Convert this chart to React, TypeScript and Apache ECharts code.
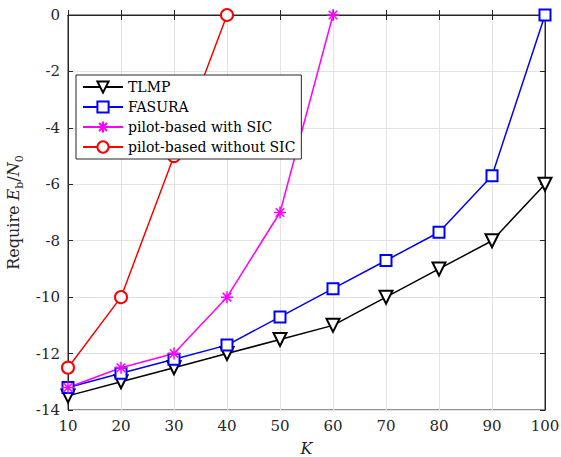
import React, { useEffect, useRef } from "react";
import * as echarts from "echarts";

const kValues = [10, 20, 30, 40, 50, 60, 70, 80, 90, 100];
const tlmp = [-13.5, -13, -12.5, -12, -11.5, -11, -10, -9, -8, -6];
const fasura = [-13.2, -12.7, -12.2, -11.7, -10.7, -9.7, -8.7, -7.7, -5.7, 0];
const pilotSic = [-13.2, -12.5, -12, -10, -7, 0];
const pilotNoSic = [-12.5, -10, -5, 0];

const FONT = "'DejaVu Serif', 'Liberation Serif', serif";
const AX = "#262626";
const ASTERISK = "path://M5,0L5,10M0,5L10,5M1.46,1.46L8.54,8.54M1.46,8.54L8.54,1.46";

function pairs(vals: number[]) {
  return vals.map((v, i) => [kValues[i], v]);
}

export default function App() {
  const ref = useRef<HTMLDivElement>(null);
  useEffect(() => {
    if (!ref.current) return;
    const chart = echarts.init(ref.current, undefined, { renderer: "svg" });
    const baseAxis = {
      axisLine: { show: true, lineStyle: { color: AX, width: 1 } },
      axisTick: { show: true, inside: true, length: 5, lineStyle: { color: AX } },
      axisLabel: { color: AX, fontFamily: FONT, fontSize: 15 },
      splitLine: { show: false },
    };
    const mk = (name: string, color: string, data: number[], symbol: string, size: number, rotate = 0) => ({
      name,
      type: "line",
      data: pairs(data),
      symbol,
      symbolSize: size,
      symbolRotate: rotate,
      showAllSymbol: true,
      lineStyle: { color, width: 1.5 },
      itemStyle: { color, borderColor: color, borderWidth: 1.5 },
    });
    chart.setOption({
      animation: false,
      backgroundColor: "#ffffff",
      grid: {
        left: 68,
        right: 16,
        top: 15,
        bottom: 47,
        show: true,
        borderColor: AX,
        borderWidth: 1,
        outerBoundsMode: "none",
        containLabel: false,
      },
      legend: {
        left: 76,
        top: 75,
        orient: "vertical",
        backgroundColor: "#ffffff",
        borderColor: "#262626",
        borderWidth: 1,
        borderRadius: 0,
        padding: [5, 6],
        itemGap: 6,
        itemWidth: 40,
        itemHeight: 14,
        textStyle: { fontFamily: FONT, fontSize: 14, color: "#000" },
        data: ["TLMP", "FASURA", "pilot-based with SIC", "pilot-based without SIC"],
      },
      xAxis: [
        {
          ...baseAxis,
          type: "value",
          min: 10,
          max: 100,
          interval: 10,
          name: "K",
          nameLocation: "middle",
          nameGap: 30,
          nameTextStyle: { fontFamily: FONT, fontSize: 16, fontStyle: "italic", color: AX },
          splitLine: { show: true, lineStyle: { color: "#e3e3e3", width: 1 } },
        },
        {
          ...baseAxis,
          type: "value",
          position: "top",
          min: 10,
          max: 100,
          interval: 10,
          axisLabel: { show: false },
        },
      ],
      yAxis: [
        {
          ...baseAxis,
          type: "value",
          min: -14,
          max: 0,
          interval: 2,
          name: "{r|Require }{i|E}{s|b}{r|/}{i|N}{s|0}",
          nameLocation: "middle",
          nameGap: 42,
          nameTextStyle: {
            color: AX,
            rich: {
              r: { fontFamily: FONT, fontSize: 16, color: AX, lineHeight: 22 },
              i: { fontFamily: FONT, fontSize: 16, fontStyle: "italic", color: AX, lineHeight: 22 },
              s: { fontFamily: FONT, fontSize: 11, color: AX, lineHeight: 22, verticalAlign: "bottom", padding: [6, 0, 0, 0] },
            },
          },
          splitLine: { show: true, lineStyle: { color: "#e3e3e3", width: 1 } },
        },
        {
          ...baseAxis,
          type: "value",
          position: "right",
          min: -14,
          max: 0,
          interval: 2,
          axisLabel: { show: false },
        },
      ],
      series: [
        mk("TLMP", "#000000", tlmp, "emptyTriangle", 13, 180),
        mk("FASURA", "#0000ff", fasura, "emptyRect", 11),
        mk("pilot-based with SIC", "#ff00ff", pilotSic, ASTERISK, 12),
        mk("pilot-based without SIC", "#ff0000", pilotNoSic, "emptyCircle", 12),
      ],
    });
    return () => chart.dispose();
  }, []);
  return <div ref={ref} style={{ width: 561, height: 457, position: "absolute", left: 0, top: 0 }} />;
}
